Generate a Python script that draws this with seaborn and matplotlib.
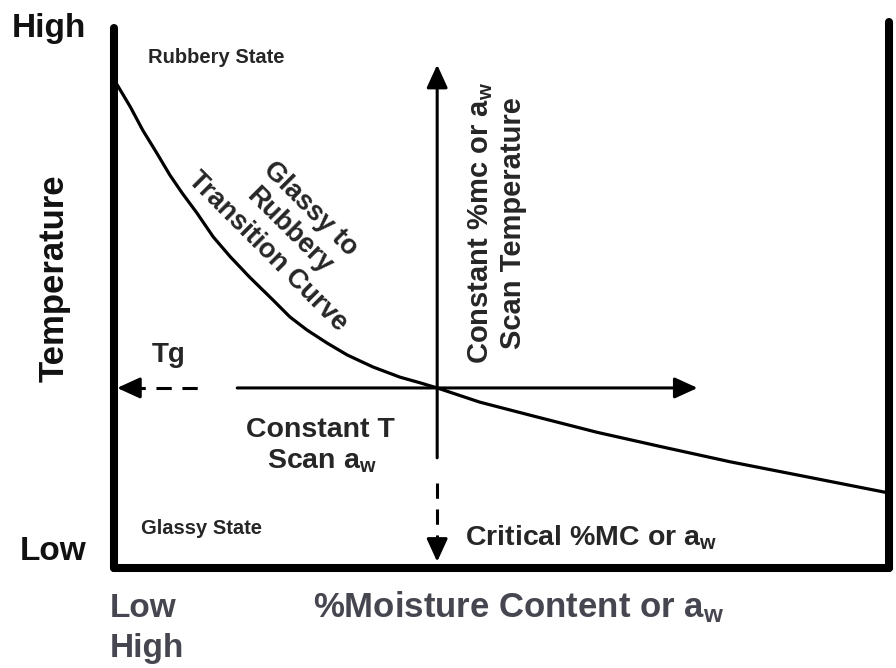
import matplotlib
matplotlib.use("Agg")
import matplotlib.pyplot as plt
import seaborn as sns

# Schematic state diagram: glassy / rubbery transition curve
moisture = [0, 2.1, 3.7, 5.5, 7.2, 8.8, 10.7, 12.8, 15.0, 17.5, 20.5, 22.7,
            24.9, 27.5, 30.1, 33.4, 36.9, 39.5, 41.7, 47.2, 53.7, 62.3,
            70.8, 79.5, 88.1, 100]
temperature = [86.0, 81.2, 77.1, 73.1, 69.2, 66.0, 62.5, 58.3, 54.8, 51.2, 47.2, 44.2,
               41.9, 39.6, 37.5, 35.4, 33.6, 32.6, 31.7, 29.2, 26.9, 23.9,
               21.3, 18.7, 16.4, 13.2]

crit_mc = 41.7      # critical moisture where the scans cross the curve
const_t = 31.7      # constant temperature (Tg)

sns.set_style("white")
plt.rcParams["font.family"] = ["Liberation Sans", "DejaVu Sans"]
plt.rcParams["mathtext.fontset"] = "custom"
plt.rcParams["mathtext.rm"] = "Liberation Sans:bold"
plt.rcParams["mathtext.it"] = "Liberation Sans:bold"
plt.rcParams["mathtext.bf"] = "Liberation Sans:bold"
plt.rcParams["mathtext.default"] = "rm"

W, H = 896, 668
fig = plt.figure(figsize=(W / 100, H / 100), dpi=100)
ax = fig.add_axes([114 / W, 1 - 568 / H, (889 - 114) / W, 568 / H])
ax.set_xlim(0, 100)
ax.set_ylim(0, 100)
ax.set_xticks([])
ax.set_yticks([])

for side in ["left", "right", "bottom"]:
    ax.spines[side].set_linewidth(5.8)
    ax.spines[side].set_color("black")
    ax.spines[side].set_capstyle("round")
ax.spines["top"].set_visible(False)
ax.spines["left"].set_bounds(0, 95.1)
ax.spines["right"].set_bounds(0, 96.1)

# transition curve
sns.lineplot(x=moisture, y=temperature, color="black", linewidth=2.3, ax=ax)

head = dict(arrowstyle="-|>,head_length=0.7,head_width=0.32", lw=2.2,
            color="black", shrinkA=0, shrinkB=0, mutation_scale=20)
dash = (0, (5, 3.5))

# constant T scan (horizontal)
ax.annotate("", xy=(75.3, const_t), xytext=(15.9, const_t), arrowprops=head)
ax.plot([2.0, 11.8], [const_t, const_t], color="black", lw=2.2, ls=dash)
ax.annotate("", xy=(0.4, const_t), xytext=(2.6, const_t), arrowprops=head)

# constant moisture scan (vertical)
ax.annotate("", xy=(crit_mc, 88.6), xytext=(crit_mc, 19.4), arrowprops=head)
ax.plot([crit_mc, crit_mc], [15.0, 3.8], color="black", lw=2.2, ls=dash)
ax.annotate("", xy=(crit_mc, 1.1), xytext=(crit_mc, 4.5), arrowprops=head)

# labels inside the plot
ax.text(4.4, 89.8, "Rubbery State", fontsize=14.5, fontweight="bold", va="center")
ax.text(3.5, 7.0, "Glassy State", fontsize=14.5, fontweight="bold", va="center")
ax.text(4.9, 36.3, "Tg", fontsize=20, fontweight="bold", va="baseline")
ax.text(26.6, 23.1, "Constant T", fontsize=20.5, fontweight="bold",
        ha="center", va="baseline")
ax.text(26.8, 17.6, "Scan $a_w$", fontsize=20.5, fontweight="bold",
        ha="center", va="baseline")
ax.text(45.3, 4.0, "Critical %MC or $a_w$", fontsize=20.5, fontweight="bold",
        va="baseline")
ax.text(49.4, 60.7, "Constant %mc or $a_w$\nScan Temperature", fontsize=21,
        fontweight="bold", rotation=90, ha="center", va="center",
        multialignment="center", rotation_mode="anchor")
ax.text(22.6, 59.4, "Glassy to\nRubbery\nTransition Curve", fontsize=19.5,
        fontweight="bold", rotation=-45, ha="center", va="center",
        multialignment="center", rotation_mode="anchor")

# labels outside the axes
fig.text(12 / W, 1 - 37 / H, "High", fontsize=24, fontweight="bold",
         va="baseline", color="#111111")
fig.text(20 / W, 1 - 560 / H, "Low", fontsize=24, fontweight="bold",
         va="baseline", color="#111111")
fig.text(54 / W, 1 - 278 / H, "Temperature", fontsize=25, fontweight="bold",
         rotation=90, ha="center", va="center", color="#111111")

grey = "#45464f"
fig.text(110 / W, 1 - 617 / H, "Low", fontsize=24, fontweight="bold",
         va="baseline", color=grey)
fig.text(110 / W, 1 - 657 / H, "High", fontsize=24, fontweight="bold",
         va="baseline", color=grey)
fig.text(313 / W, 1 - 617 / H, "%Moisture Content or $a_w$", fontsize=25,
         fontweight="bold", va="baseline", color=grey)

fig.savefig("out.png", dpi=100)
